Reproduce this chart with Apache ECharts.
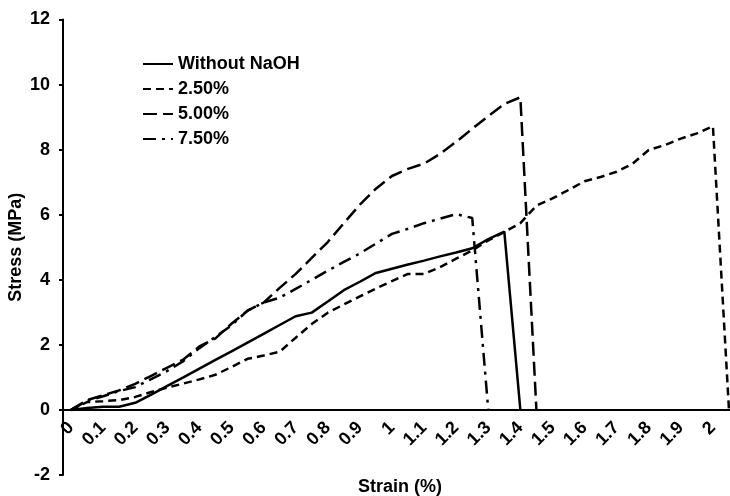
<!DOCTYPE html>
<html>
<head>
<meta charset="utf-8">
<script src="https://cdn.jsdelivr.net/npm/echarts@6/dist/echarts.min.js"></script>
<style>
  html, body { margin: 0; padding: 0; background: #fff; }
  #chart { width: 730px; height: 496px; }
</style>
</head>
<body>
<div id="chart"></div>
<script>
// strain categories (%), one every 0.05
const strain = ['0', '0.05', '0.1', '0.15', '0.2', '0.25', '0.3', '0.35', '0.4', '0.45',
  '0.5', '0.55', '0.6', '0.65', '0.7', '0.75', '0.8', '0.85', '0.9', '0.95',
  '1', '1.05', '1.1', '1.15', '1.2', '1.25', '1.3', '1.35', '1.4', '1.45',
  '1.5', '1.55', '1.6', '1.65', '1.7', '1.75', '1.8', '1.85', '1.9', '1.95',
  '2', '2.05']

// stress (MPa)
const withoutNaOH = [0, 0.06, 0.1, 0.1, 0.22, 0.47, 0.74, 1.0, 1.27, 1.54,
  1.8, 2.07, 2.34, 2.61, 2.88, 2.99, 3.33, 3.68, 3.94, 4.21,
  4.34, 4.47, 4.59, 4.72, 4.84, 4.97, 5.25, 5.48, 0]
const naoh250 = [0, 0.24, 0.27, 0.3, 0.4, 0.55, 0.69, 0.81, 0.94, 1.08,
  1.32, 1.57, 1.67, 1.79, 2.22, 2.64, 2.99, 3.24, 3.49, 3.73,
  3.96, 4.18, 4.18, 4.39, 4.65, 4.9, 5.21, 5.47, 5.74, 6.28,
  6.5, 6.76, 7.03, 7.16, 7.32, 7.57, 7.99, 8.14, 8.34, 8.5,
  8.72, 0]
const naoh500 = [0, 0.3, 0.45, 0.6, 0.8, 1.05, 1.3, 1.55, 1.95, 2.2,
  2.65, 3.05, 3.3, 3.75, 4.18, 4.67, 5.16, 5.74, 6.31, 6.8,
  7.19, 7.41, 7.57, 7.87, 8.24, 8.64, 9.03, 9.4, 9.61, 0]
const naoh750 = [0, 0.28, 0.42, 0.58, 0.7, 0.95, 1.2, 1.5, 1.9, 2.25,
  2.6, 3.05, 3.3, 3.45, 3.72, 4.0, 4.28, 4.55, 4.81, 5.11,
  5.41, 5.57, 5.74, 5.88, 6.02, 5.9, 0]

const seriesNames = ['Without NaOH', '2.50%', '5.00%', '7.50%']
const dashTypes = ['solid', [8, 5], [14, 6], [13, 6, 3, 6]]

const yMin = -2
const yMax = 12
const font = 'Liberation Sans, Arial, sans-serif'
const fontSize = 18
const gridTop = 19.5
const gridHeight = 455.5
// x axis sits on stress = 0, so push it up from the grid bottom
const xAxisOffset = -gridHeight * (0 - yMin) / (yMax - yMin)

const chart = echarts.init(document.getElementById('chart'))

const mkSeries = (name, data, dash) => ({
  name: name,
  type: 'line',
  data: data,
  symbol: 'none',
  showSymbol: false,
  animation: false,
  itemStyle: { color: '#000' },
  lineStyle: { color: '#000', width: 2.5, type: dash }
})

const txt = { color: '#000', fontWeight: 'bold', fontSize: fontSize, fontFamily: font }

chart.setOption({
  backgroundColor: '#fff',
  animation: false,
  grid: { left: 63, top: gridTop, width: 674, height: gridHeight, containLabel: false, outerBoundsMode: 'none' },
  legend: {
    orient: 'vertical',
    left: 142,
    top: 55,
    padding: 0,
    itemWidth: 30,
    itemHeight: 14,
    itemGap: 7,
    itemStyle: { opacity: 0 },
    textStyle: txt,
    data: seriesNames
  },
  xAxis: {
    type: 'category',
    data: strain,
    boundaryGap: true,
    position: 'bottom',
    offset: xAxisOffset,
    name: 'Strain (%)',
    nameLocation: 'middle',
    nameGap: 68,
    nameTextStyle: txt,
    axisLine: { onZero: false, lineStyle: { color: '#000', width: 2 } },
    axisTick: { interval: 0, length: 5, lineStyle: { color: '#000', width: 2 } },
    axisLabel: Object.assign({ interval: 1, rotate: 45, margin: 15 }, txt),
    splitLine: { show: false }
  },
  yAxis: {
    type: 'value',
    min: yMin,
    max: yMax,
    interval: 2,
    name: 'Stress (MPa)',
    nameLocation: 'middle',
    nameRotate: 90,
    nameGap: 38,
    nameMoveOverlap: false,
    nameTextStyle: txt,
    axisLine: { show: true, lineStyle: { color: '#000', width: 2 } },
    axisTick: { show: true, length: 4, lineStyle: { color: '#000', width: 2 } },
    axisLabel: Object.assign({ margin: 13 }, txt),
    splitLine: { show: false }
  },
  series: [
    mkSeries(seriesNames[0], withoutNaOH, dashTypes[0]),
    mkSeries(seriesNames[1], naoh250, dashTypes[1]),
    mkSeries(seriesNames[2], naoh500, dashTypes[2]),
    mkSeries(seriesNames[3], naoh750, dashTypes[3])
  ]
})
</script>
</body>
</html>
